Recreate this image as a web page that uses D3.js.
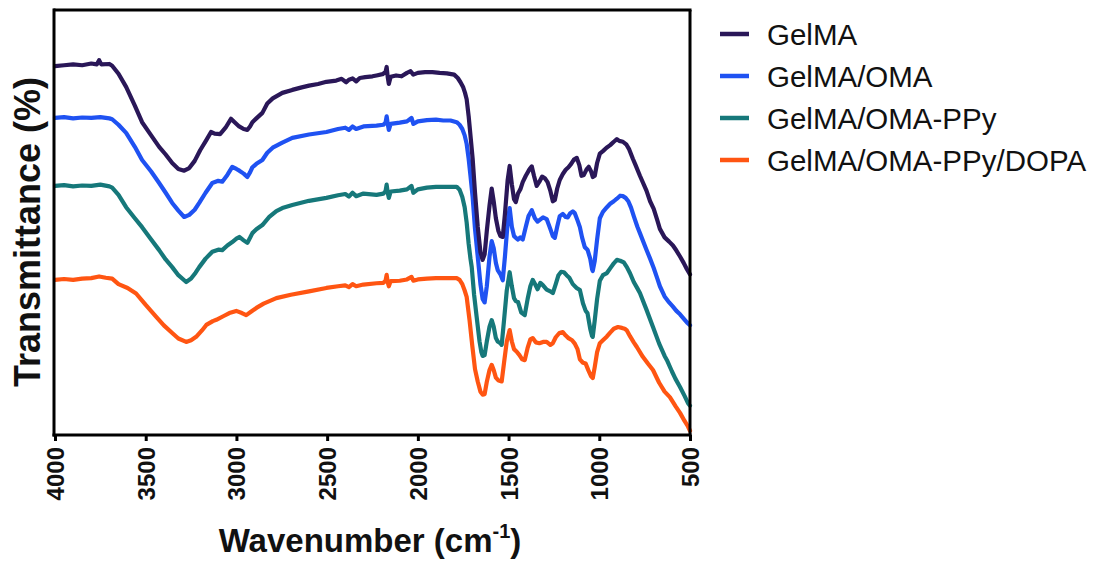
<!DOCTYPE html>
<html>
<head>
<meta charset="utf-8">
<script src="https://cdn.jsdelivr.net/npm/d3@7"></script>
<style>
  html, body { margin: 0; padding: 0; background: #fff; }
  svg { display: block; }
  text { font-family: "Liberation Sans", Arial, Helvetica, sans-serif; }
</style>
</head>
<body>
<svg id="chart" width="1106" height="565"></svg>
<script>
// ---------- data (wavenumber cm^-1, transmittance a.u.) ----------
const seriesNames = ["GelMA", "GelMA/OMA", "GelMA/OMA-PPy", "GelMA/OMA-PPy/DOPA"];
const seriesColors = ["#2a1758", "#1f52f2", "#16787a", "#ff5512"];
const xTicks = [4000, 3500, 3000, 2500, 2000, 1500, 1000, 500];

const gelma = [[4000,86.8],[3950,87.0],[3900,87.2],[3850,87.0],[3800,87.4],[3770,87.2],[3757,88.2],[3745,87.2],[3700,87.3],[3685,86.9],[3650,85.0],[3608,81.9],[3560,77.5],[3520,73.6],[3470,70.5],[3426,67.8],[3390,66.0],[3354,64.0],[3320,62.6],[3288,62.2],[3260,62.8],[3230,64.5],[3200,67.0],[3166,69.4],[3140,71.3],[3120,70.9],[3090,70.8],[3060,72.3],[3030,74.4],[3010,73.6],[2985,72.6],[2960,72.0],[2940,71.8],[2925,72.6],[2912,73.6],[2890,74.5],[2857,75.8],[2830,78.0],[2800,79.2],[2747,80.5],[2692,81.2],[2640,81.8],[2600,82.2],[2550,82.6],[2504,83.1],[2450,83.4],[2420,83.8],[2395,83.0],[2380,83.6],[2360,83.9],[2340,83.2],[2320,84.0],[2290,84.2],[2250,84.4],[2228,84.6],[2195,84.9],[2178,85.4],[2172,86.6],[2166,84.2],[2160,82.6],[2150,84.3],[2120,84.6],[2090,84.4],[2060,85.2],[2040,85.6],[2025,84.8],[2000,85.2],[1960,85.4],[1920,85.4],[1880,85.2],[1840,85.1],[1800,84.8],[1780,84.0],[1765,83.0],[1750,81.8],[1740,80.5],[1731,79.0],[1720,75],[1710,70.5],[1698,65],[1685,57],[1670,49],[1655,43],[1643,41.2],[1632,42.5],[1620,48],[1605,54],[1593,58],[1582,55],[1570,51],[1556,48],[1545,46.8],[1532,46.6],[1520,52],[1505,60],[1494,63.3],[1482,59],[1470,55.5],[1460,54.8],[1448,56.8],[1435,57.8],[1422,59.5],[1405,61],[1385,62.5],[1372,63.2],[1360,61],[1345,58.6],[1330,59.6],[1315,60.8],[1300,60.4],[1285,59.5],[1270,57.5],[1256,55.0],[1245,55.3],[1232,58],[1218,60.0],[1201,61.4],[1185,62.4],[1170,63.0],[1155,63.8],[1140,64.8],[1124,65.2],[1110,63.5],[1098,61.0],[1085,61.2],[1070,62.5],[1058,63.1],[1045,62.0],[1036,60.7],[1025,61.0],[1012,64.0],[997,66.2],[980,66.8],[960,67.6],[940,68.2],[920,69.0],[903,69.6],[890,69.2],[870,69.0],[850,68.3],[835,67.2],[815,65],[800,63.5],[776,61.0],[740,57.5],[720,55],[700,53.2],[680,50.5],[666,48.5],[640,46.5],[615,45.5],[594,44.6],[575,43.4],[555,42.0],[535,40.5],[517,39.0],[500,37.8]];

const gelmaOma = [[4000,74.6],[3950,74.8],[3900,74.5],[3850,74.7],[3800,74.6],[3750,74.8],[3700,74.5],[3685,74.3],[3650,73.0],[3608,71.1],[3560,67.8],[3520,64.7],[3470,62.0],[3426,59.3],[3390,57.0],[3354,54.6],[3320,52.8],[3288,51.3],[3260,51.8],[3230,53.0],[3205,54.6],[3170,57.0],[3133,59.3],[3100,59.8],[3078,59.6],[3050,61.2],[3023,63.1],[3000,62.6],[2984,62.2],[2960,61.5],[2940,60.7],[2925,61.8],[2912,63.0],[2890,63.8],[2857,64.7],[2830,66.4],[2800,67.6],[2747,68.8],[2692,69.9],[2600,70.7],[2504,71.3],[2440,72.0],[2400,72.3],[2380,71.8],[2360,72.6],[2340,72.0],[2300,72.6],[2228,72.8],[2190,73.0],[2178,73.5],[2172,75.0],[2166,73.2],[2160,71.8],[2150,73.2],[2100,73.5],[2060,73.8],[2035,74.6],[2025,73.2],[2000,73.8],[1950,74.1],[1900,74.2],[1860,74.0],[1820,74.0],[1786,73.6],[1770,73.0],[1755,72.0],[1742,70.5],[1731,68.5],[1720,65],[1710,61],[1698,56],[1685,48.5],[1670,42],[1655,35.5],[1643,32.0],[1632,31.2],[1620,35],[1605,42],[1593,45.6],[1582,44],[1570,40.5],[1560,38.8],[1545,37.8],[1532,36.4],[1520,42],[1505,50],[1494,53.4],[1482,49],[1470,46.8],[1460,46.4],[1448,46.0],[1435,46.5],[1422,46.0],[1405,49],[1390,51.5],[1372,52.9],[1355,51],[1340,50.2],[1328,50.6],[1310,51.2],[1290,50.8],[1270,48.5],[1256,46.8],[1245,46.4],[1232,49],[1218,51.5],[1201,52.0],[1185,51.3],[1174,51.2],[1160,52.2],[1146,52.6],[1135,52.2],[1120,50.5],[1107,48.9],[1095,46.5],[1080,44.2],[1065,43.6],[1050,41.5],[1040,39.0],[1036,38.6],[1025,41],[1012,46],[997,51.0],[980,52.5],[958,53.6],[940,54.4],[920,55.0],[903,55.6],[885,56.3],[870,56.2],[855,55.8],[840,55.0],[825,53.5],[810,51.5],[790,49],[776,47.5],[740,43.6],[720,41.5],[700,39.3],[680,36.8],[666,35.0],[640,32.6],[615,31.2],[594,30.2],[575,29.2],[555,28.4],[535,27.4],[517,26.5],[500,25.8]];

const gelmaOmaPpy = [[4000,58.6],[3950,58.8],[3900,58.5],[3850,58.7],[3800,58.6],[3750,58.9],[3700,58.5],[3685,58.2],[3650,56.5],[3608,53.6],[3560,51.0],[3520,48.9],[3470,46.0],[3426,43.5],[3390,41.3],[3354,39.5],[3320,37.6],[3277,36.0],[3250,36.8],[3225,38.2],[3205,39.5],[3170,41.5],[3133,43.1],[3100,43.6],[3078,43.5],[3050,44.6],[3023,45.4],[3000,46.2],[2984,46.6],[2960,45.8],[2940,45.2],[2925,46.4],[2912,47.5],[2890,48.4],[2857,49.4],[2819,51.3],[2780,52.7],[2747,53.4],[2692,54.1],[2600,55.1],[2504,55.8],[2440,56.4],[2400,56.7],[2380,56.1],[2360,57.0],[2340,56.2],[2300,56.8],[2228,56.5],[2190,56.8],[2178,57.4],[2172,58.9],[2166,57.0],[2160,55.8],[2150,57.3],[2100,57.5],[2060,57.8],[2035,58.6],[2025,57.0],[2000,57.8],[1950,58.2],[1900,58.4],[1860,58.4],[1820,58.4],[1786,58.4],[1770,57.7],[1755,56.0],[1742,53.6],[1731,50.0],[1720,45],[1710,41.5],[1703,39.5],[1690,33],[1676,27.8],[1660,22],[1650,19.5],[1643,18.6],[1632,18.8],[1620,22],[1605,25.5],[1593,27.0],[1582,25.5],[1570,22.8],[1560,22.0],[1545,21.6],[1538,21.2],[1525,27],[1510,34],[1494,38.3],[1482,35],[1470,32.2],[1460,31.5],[1448,31.3],[1430,28.8],[1411,28.2],[1395,32],[1380,35],[1367,36.5],[1355,35.6],[1340,34.3],[1325,35.8],[1310,35.2],[1290,34.2],[1270,33.8],[1256,33.4],[1240,35.5],[1225,37.6],[1210,38.4],[1195,38.3],[1180,37.6],[1165,37.0],[1146,35.5],[1125,34.6],[1107,34.1],[1090,31],[1075,29.2],[1065,28.7],[1050,25],[1040,23.3],[1036,23.1],[1025,27],[1012,32],[997,36.3],[980,37.6],[958,38.1],[940,39.2],[920,40.4],[903,41.2],[885,41.0],[865,40.6],[848,39.5],[830,38],[810,36],[790,34.5],[776,33.4],[740,29.5],[704,25.4],[670,21.5],[640,18.6],[627,17.6],[600,15.0],[580,13.2],[555,11.3],[530,9.2],[511,7.5],[500,6.9]];

const gelmaOmaPpyDopa = [[4000,36.5],[3950,36.7],[3900,36.5],[3850,36.8],[3800,36.9],[3757,37.3],[3720,37.0],[3685,36.8],[3650,35.5],[3600,34.6],[3553,33.3],[3500,30.6],[3442,27.8],[3400,25.8],[3354,24.0],[3320,22.7],[3277,21.9],[3250,22.3],[3222,23.1],[3190,24.6],[3166,25.9],[3130,26.8],[3111,27.1],[3070,28.0],[3039,28.7],[3001,29.2],[2970,28.7],[2946,28.2],[2920,29.0],[2890,29.9],[2850,30.9],[2780,32.2],[2700,33.0],[2600,33.8],[2504,34.6],[2440,35.0],[2400,35.2],[2380,34.8],[2360,35.5],[2340,35.0],[2300,35.4],[2228,35.7],[2190,35.8],[2178,36.3],[2172,37.7],[2166,35.9],[2160,35.0],[2150,36.2],[2100,36.3],[2060,36.6],[2035,37.2],[2025,36.3],[2000,36.6],[1950,36.8],[1900,36.9],[1860,36.9],[1820,36.9],[1786,36.9],[1770,36.5],[1755,35.5],[1742,34.0],[1731,32.5],[1715,27],[1700,21],[1685,15.5],[1670,12.6],[1655,10.2],[1643,9.5],[1632,9.6],[1620,12.5],[1605,15.3],[1593,16.5],[1582,15.3],[1570,13.5],[1555,12.8],[1538,12.6],[1525,17],[1510,22],[1494,24.7],[1482,22],[1470,20.2],[1455,19.6],[1440,18.8],[1425,17.8],[1411,17.6],[1395,20.5],[1380,22.5],[1367,22.8],[1350,21.8],[1330,21.6],[1310,21.9],[1290,21.9],[1270,21.2],[1256,21.6],[1240,23],[1220,24.0],[1201,24.2],[1185,23.4],[1170,22.8],[1150,22.3],[1135,21.5],[1120,20.2],[1107,17.8],[1090,17.0],[1075,16.8],[1060,15.2],[1045,13.8],[1036,13.4],[1025,16],[1012,19.5],[997,21.6],[980,22.3],[958,23.2],[940,24.1],[920,25.0],[897,25.4],[875,25.2],[860,25.0],[848,24.6],[830,23.2],[810,21.8],[793,20.7],[760,18.4],[730,16.7],[704,15.3],[670,12.3],[640,10.2],[611,8.9],[580,6.8],[555,5.2],[530,3.3],[511,2.0],[500,1.0]];

const seriesData = [gelma, gelmaOma, gelmaOmaPpy, gelmaOmaPpyDopa];

// ---------- layout ----------
const svg = d3.select("#chart");
const plot = { left: 55, right: 690, top: 10, bottom: 435 };

const x = d3.scaleLinear().domain([4000, 500]).range([plot.left, plot.right]);
const y = d3.scaleLinear().domain([0, 100]).range([plot.bottom, plot.top]);

// curves
const line = d3.line().x(d => x(d[0])).y(d => y(d[1])).curve(d3.curveLinear);
const drawOrder = [3, 2, 1, 0];
drawOrder.forEach(i => {
  svg.append("path")
    .datum(seriesData[i])
    .attr("d", line)
    .attr("fill", "none")
    .attr("stroke", seriesColors[i])
    .attr("stroke-width", 4.2)
    .attr("stroke-linejoin", "round")
    .attr("stroke-linecap", "round");
});

// frame (top and right borders)
svg.append("line").attr("x1", plot.left - 1.5).attr("x2", plot.right + 1.5)
  .attr("y1", plot.top).attr("y2", plot.top).attr("stroke", "#000").attr("stroke-width", 3);
svg.append("line").attr("x1", plot.right).attr("x2", plot.right)
  .attr("y1", plot.top).attr("y2", plot.bottom).attr("stroke", "#000").attr("stroke-width", 3);

// left axis (no ticks)
svg.append("line").attr("x1", plot.left - 1).attr("x2", plot.left - 1)
  .attr("y1", plot.top - 1.5).attr("y2", plot.bottom + 1.5).attr("stroke", "#000").attr("stroke-width", 3);

// bottom axis
const xAxis = d3.axisBottom(x).tickValues(xTicks).tickSize(6).tickFormat(d3.format("d"));
const gx = svg.append("g").attr("transform", `translate(0,${plot.bottom})`).call(xAxis);
gx.select(".domain").attr("stroke", "#000").attr("stroke-width", 3)
  .attr("d", `M${plot.left - 2.5},0H${plot.right + 1.5}`);
gx.selectAll(".tick line").attr("stroke", "#000").attr("stroke-width", 3);
gx.selectAll(".tick text")
  .attr("font-family", '"Liberation Sans", Arial, sans-serif')
  .attr("font-size", 24)
  .attr("font-weight", "bold")
  .attr("fill", "#111")
  .attr("text-anchor", "end")
  .attr("dy", null)
  .attr("y", null)
  .attr("transform", "translate(8.5,12) rotate(-90)");

// axis titles
const xTitle = svg.append("text")
  .attr("x", 370).attr("y", 552)
  .attr("text-anchor", "middle")
  .attr("font-size", 33).attr("font-weight", "bold").attr("fill", "#111");
xTitle.append("tspan").text("Wavenumber (cm");
xTitle.append("tspan").attr("font-size", 20).attr("dy", -14).text("-1");
xTitle.append("tspan").attr("dy", 14).text(")");

svg.append("text")
  .attr("transform", "translate(40,232) rotate(-90)")
  .attr("text-anchor", "middle")
  .attr("font-size", 36).attr("font-weight", "bold").attr("fill", "#111")
  .text("Transmittance (%)");

// legend
const legend = svg.append("g").attr("transform", "translate(720,34)");
seriesNames.forEach((name, i) => {
  const g = legend.append("g").attr("transform", `translate(0,${i * 42})`);
  g.append("line").attr("x1", 0).attr("x2", 29).attr("y1", 0).attr("y2", 0)
    .attr("stroke", seriesColors[i]).attr("stroke-width", 4.5);
  g.append("text").attr("x", 47).attr("y", 11)
    .attr("font-size", 29.5).attr("fill", "#111").text(name);
});
</script>
</body>
</html>
